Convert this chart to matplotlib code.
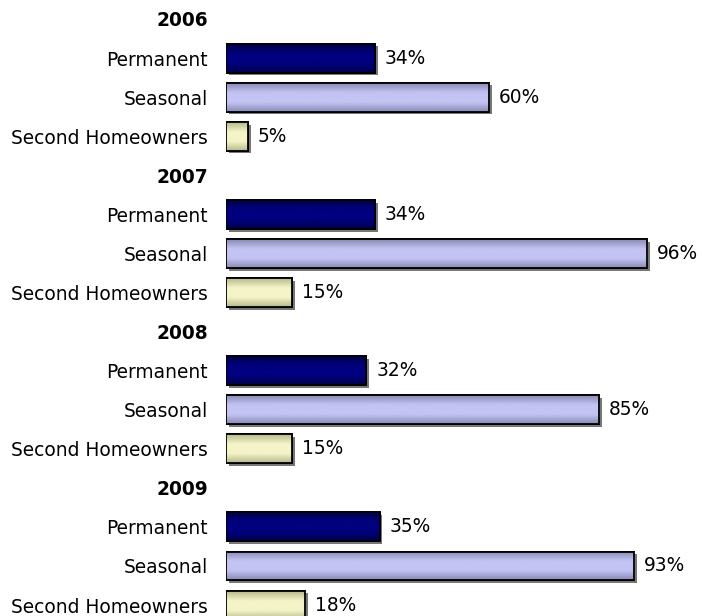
import numpy as np
import matplotlib.pyplot as plt
import matplotlib.patheffects as pe
from matplotlib.colors import LinearSegmentedColormap

years = ['2006', '2007', '2008', '2009']
categories = ['Permanent', 'Seasonal', 'Second Homeowners']
permanent = [34, 34, 32, 35]
seasonal = [60, 96, 85, 93]
second_home = [5, 15, 15, 18]

colors = {'Permanent': '#000080', 'Seasonal': '#c4c4f4', 'Second Homeowners': '#f4f4c8'}
shade = {'Permanent': '#00004a', 'Seasonal': '#8a8ab4', 'Second Homeowners': '#b8b88e'}

plt.rcParams['font.family'] = 'DejaVu Sans'
fig = plt.figure(figsize=(7.02, 6.16), dpi=100)
ax = fig.add_axes([226 / 702, 0, 1 - 226 / 702, 1])

series = {'Permanent': permanent, 'Seasonal': seasonal, 'Second Homeowners': second_home}
ticks, labels = [], []
for g, yr in enumerate(years):
    ticks.append(g * 4)
    labels.append(yr)
    for k, cat in enumerate(categories):
        ticks.append(g * 4 + k + 1)
        labels.append(cat)

for k, cat in enumerate(categories):
    ys = [g * 4 + k + 1 for g in range(len(years))]
    bars = ax.barh(ys, series[cat], height=0.74, color=colors[cat],
                   edgecolor='black', linewidth=1.3, zorder=3)
    cmap = LinearSegmentedColormap.from_list('g', [shade[cat], colors[cat], colors[cat], shade[cat]])
    grad = np.linspace(0, 1, 64).reshape(-1, 1)
    for b in bars:
        b.set_path_effects([pe.SimplePatchShadow(offset=(2, -2), shadow_rgbFace='#555555', alpha=0.8),
                            pe.Normal()])
        x0, y0, w, h = b.get_x(), b.get_y(), b.get_width(), b.get_height()
        im = ax.imshow(grad, cmap=cmap, aspect='auto', extent=(x0, x0 + w, y0 + h, y0),
                       zorder=3.5, interpolation='bicubic')
        im.set_clip_path(b)
        edge = plt.Rectangle((x0, y0), w, h, fill=False, edgecolor='black', linewidth=1.3, zorder=4)
        ax.add_patch(edge)
    ax.bar_label(bars, labels=[f'{v}%' for v in series[cat]], padding=7, fontsize=13.4, zorder=5)

ax.set_yticks(ticks)
ax.set_yticklabels(labels, fontsize=13.4)
for t in ax.get_yticklabels():
    if t.get_text() in years:
        t.set_fontweight('bold')
ax.tick_params(axis='y', length=0, pad=13)
ax.set_xticks([])
ax.set_xlim(0, 476 / 4.39)
ax.set_ylim(15.28, -0.486)
for s in ax.spines.values():
    s.set_visible(False)

fig.savefig('out.png', dpi=100)
